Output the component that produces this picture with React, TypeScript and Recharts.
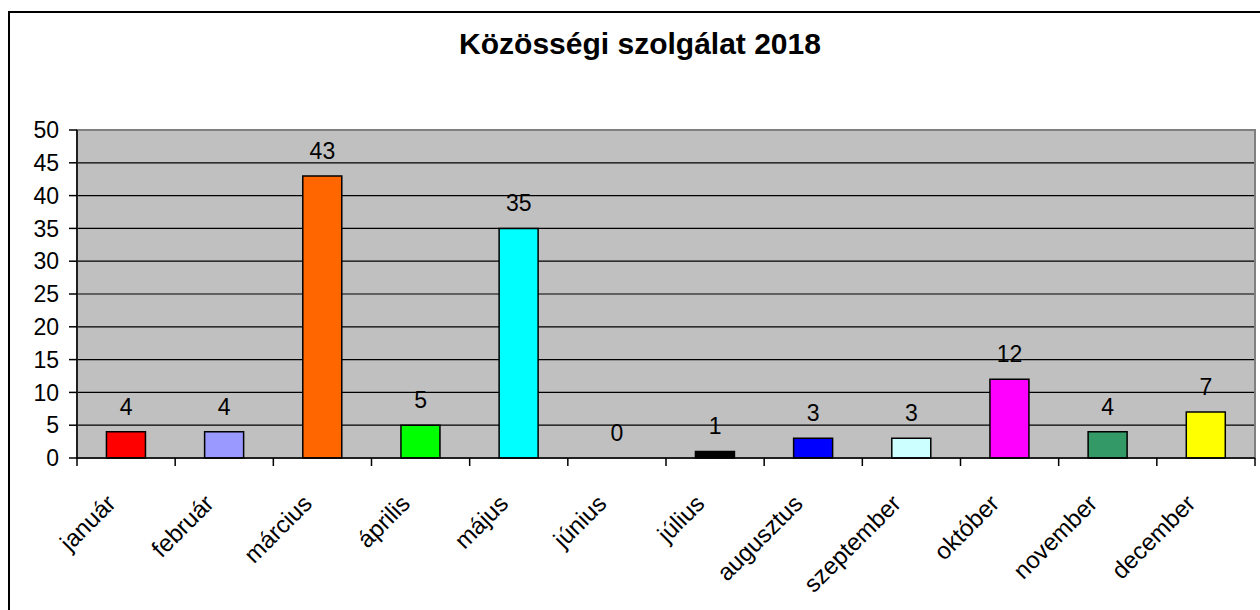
import { ComposedChart, Bar, Line, XAxis, YAxis, CartesianGrid, Cell, LabelList, ReferenceArea } from "recharts";

const months = ["január", "február", "március", "április", "május", "június", "július", "augusztus", "szeptember", "október", "november", "december"];
const counts = [4, 4, 43, 5, 35, 0, 1, 3, 3, 12, 4, 7];
const barColors = ["#FF0000", "#9999FF", "#FF6600", "#00FF00", "#00FFFF", "#C0C0C0", "#000000", "#0000FF", "#CCFFFF", "#FF00FF", "#339966", "#FFFF00"];
const yTicks = [0, 5, 10, 15, 20, 25, 30, 35, 40, 45, 50];

const W = 1260;
const H = 610;
const M = { top: 130, right: 5, left: 17, bottom: 52 };
const Y_AXIS_W = 60;
const band = (W - M.left - Y_AXIS_W - M.right) / months.length;
const font = "'Liberation Sans', Arial, sans-serif";

const data = months.map((m, i) => ({ month: m, value: counts[i] }));

const MonthTick = ({ x, y, payload, index }: any) => {
    const tx = x - 9;
    const ty = y + 47;
    return (
        <g>
            <line x1={x - band / 2} y1={y} x2={x - band / 2} y2={y + 8} stroke="#000" strokeWidth={1.5} />
            {index === months.length - 1 && (
                <line x1={x + band / 2} y1={y} x2={x + band / 2} y2={y + 8} stroke="#000" strokeWidth={1.5} />
            )}
            <text x={tx} y={ty} textAnchor="end" transform={`rotate(-45, ${tx}, ${ty})`} fontSize={24} fill="#000" fontFamily={font}>
                {payload.value}
            </text>
        </g>
    );
};

export default function App() {
    return (
        <div style={{ position: "fixed", left: 0, top: 0, width: W, height: H, overflow: "hidden", background: "#fff", fontFamily: font }}>
            <div style={{ position: "absolute", left: 8, top: 11, width: 1270, height: 620, border: "2px solid #000" }} />
            <div style={{ position: "absolute", left: 0, top: 29, width: 1280, textAlign: "center", fontSize: 30, lineHeight: "30px", fontWeight: "bold", color: "#000" }}>
                Közösségi szolgálat 2018
            </div>
            <div style={{ position: "absolute", left: 0, top: 0 }}>
                <ComposedChart width={W} height={H} data={data} margin={M} barCategoryGap="30%">
                    <CartesianGrid fill="#C0C0C0" stroke="#000" strokeWidth={1.2} vertical={false} />
                    <ReferenceArea y1={0} y2={50} fill="none" stroke="#808080" strokeWidth={2} />
                    <XAxis
                        dataKey="month"
                        interval={0}
                        height={100}
                        tickLine={false}
                        tickSize={0}
                        tickMargin={0}
                        axisLine={{ stroke: "#000", strokeWidth: 1.5 }}
                        tick={<MonthTick />}
                    />
                    <YAxis
                        width={Y_AXIS_W}
                        domain={[0, 50]}
                        ticks={yTicks}
                        interval={0}
                        tickSize={8}
                        tickMargin={10}
                        axisLine={{ stroke: "#000", strokeWidth: 1.5 }}
                        tickLine={{ stroke: "#000", strokeWidth: 1.5 }}
                        tick={{ fill: "#000", fontSize: 23, fontFamily: font }}
                    />
                    <Bar dataKey="value" stroke="#000" strokeWidth={1.5} isAnimationActive={false}>
                        {data.map((d, i) => (
                            <Cell key={`cell-${i}`} fill={barColors[i]} />
                        ))}
                    </Bar>
                    <Line dataKey="value" stroke="none" dot={false} activeDot={false} isAnimationActive={false}>
                        <LabelList dataKey="value" position="top" offset={17} fill="#000" fontSize={23} fontFamily={font} />
                    </Line>
                </ComposedChart>
            </div>
        </div>
    );
}
